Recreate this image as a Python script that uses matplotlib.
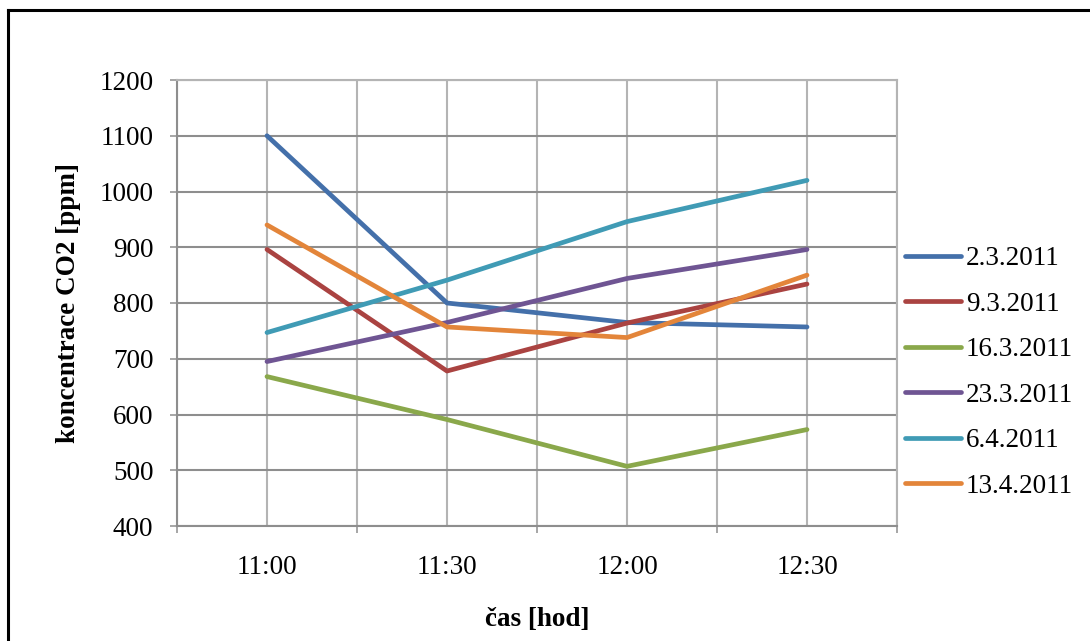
import matplotlib
matplotlib.use('Agg')
import matplotlib.pyplot as plt
from matplotlib.lines import Line2D

plt.rcParams['font.family'] = ['Liberation Serif', 'DejaVu Serif']

# measurement times and CO2 readings per day
times = ['11:00', '11:30', '12:00', '12:30']
days = ['2.3.2011', '9.3.2011', '16.3.2011', '23.3.2011', '6.4.2011', '13.4.2011']
co2_0203 = [1100, 800, 765, 757]
co2_0903 = [896, 678, 764, 834]
co2_1603 = [668, 591, 507, 573]
co2_2303 = [695, 765, 844, 896]
co2_0604 = [747, 841, 946, 1020]
co2_1304 = [940, 757, 738, 850]
series = [co2_0203, co2_0903, co2_1603, co2_2303, co2_0604, co2_1304]
colors = ['#4470AA', '#AA4341', '#8AA84B', '#6F5593', '#409BB5', '#E3853A']

FS = 19.5

fig = plt.figure(figsize=(10.9, 6.41), dpi=100)
ax = fig.add_axes([177 / 1090, 1 - 526 / 641, 720 / 1090, 446 / 641])

x = list(range(len(times)))
for vals, col, lab in zip(series, colors, days):
    ax.plot(x, vals, color=col, lw=3.4, label=lab,
            solid_capstyle='round', solid_joinstyle='round', zorder=3)

ax.set_xlim(-0.5, len(times) - 0.5)
ax.set_ylim(400, 1200)
ax.set_yticks(range(400, 1201, 100))

# boundaries between categories get the tick marks, labels sit at the centres
ax.set_xticks([i - 0.5 for i in range(len(times) + 1)])
ax.set_xticklabels([])
ax.set_xticks(x, minor=True)
ax.set_xticklabels(times, minor=True)
ax.tick_params(axis='x', which='major', length=5, width=1.1, color='#8E8E8E')
ax.tick_params(axis='x', which='minor', length=0, pad=21, labelsize=FS)
ax.tick_params(axis='y', length=5, width=1.1, color='#8E8E8E', pad=12, labelsize=FS)

ax.grid(axis='y', color='#8E8E8E', lw=1.5, zorder=1)
ax.grid(axis='x', which='both', color='#B4B4B4', lw=1.5, zorder=1)
ax.set_axisbelow(True)
for side in ['left', 'bottom']:
    ax.spines[side].set_color('#8E8E8E')
    ax.spines[side].set_linewidth(1.5)
for side in ['right', 'top']:
    ax.spines[side].set_color('#B4B4B4')
    ax.spines[side].set_linewidth(1.5)

ax.set_xlabel('čas [hod]', fontsize=FS, fontweight='bold', labelpad=19)
ax.set_ylabel('koncentrace CO2 [ppm]', fontsize=FS, fontweight='bold', labelpad=13)

ax.legend(loc='upper left', bbox_to_anchor=(905 / 1090, 1 - 246 / 641),
          bbox_transform=fig.transFigure, frameon=False, fontsize=FS,
          handlelength=2.05, handletextpad=0.2, labelspacing=0.76,
          borderpad=0, borderaxespad=0)

# outer frame of the chart area
fig.add_artist(Line2D([8 / 1090, 8 / 1090], [1 - 10 / 641, 0], color='black', lw=2.2))
fig.add_artist(Line2D([8 / 1090, 1], [1 - 10 / 641, 1 - 10 / 641], color='black', lw=2.2))

fig.savefig('out.png', dpi=100)
